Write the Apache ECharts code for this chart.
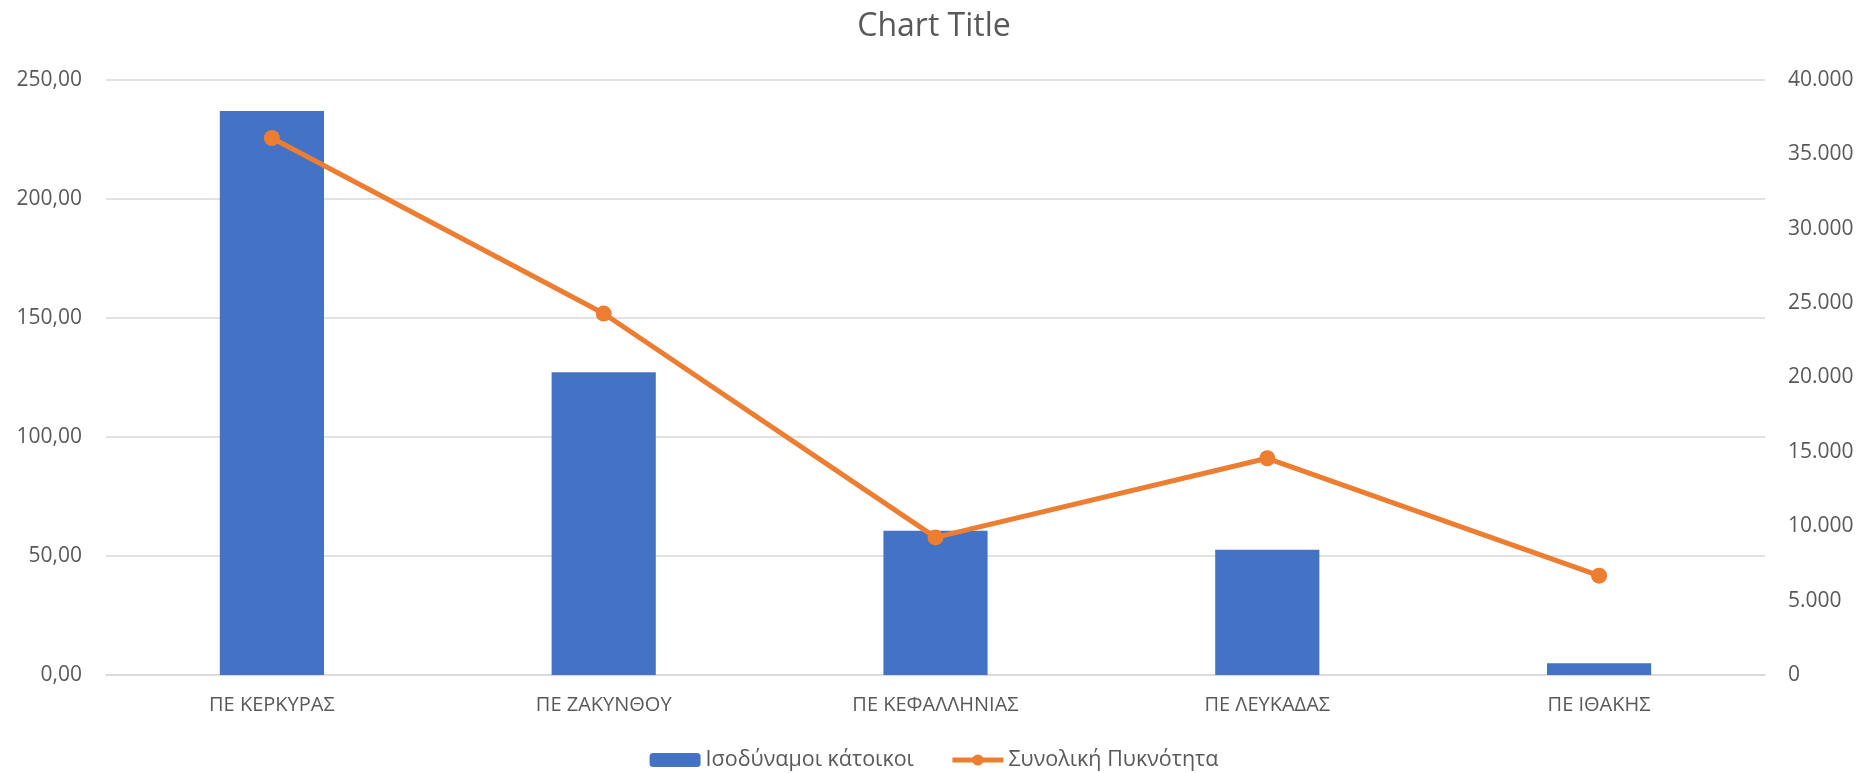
<!DOCTYPE html>
<html>
<head>
<meta charset="utf-8">
<script src="https://cdn.jsdelivr.net/npm/echarts@6/dist/echarts.min.js"></script>
<style>
  html, body { margin: 0; padding: 0; background: #fff; }
  #chart { width: 1868px; height: 773px; }
</style>
</head>
<body>
<div id="chart"></div>
<script>
// categories and values
var categories = ["ΠΕ ΚΕΡΚΥΡΑΣ", "ΠΕ ΖΑΚΥΝΘΟΥ", "ΠΕ ΚΕΦΑΛΛΗΝΙΑΣ", "ΠΕ ΛΕΥΚΑΔΑΣ", "ΠΕ ΙΘΑΚΗΣ"];
var residents = [237.0, 127.2, 60.6, 52.6, 4.9];
var density = [36100, 24300, 9250, 14570, 6680];

var font = "'Open Sans', 'Noto Sans', sans-serif";
var textColor = "#595959";

var chart = echarts.init(document.getElementById("chart"));

var option = {
  animation: false,
  title: {
    text: "Chart Title",
    left: "center",
    top: 6,
    textStyle: { color: textColor, fontSize: 32, fontWeight: "normal", fontFamily: font }
  },
  legend: {
    top: 744,
    left: "center",
    itemWidth: 51,
    itemHeight: 14,
    itemGap: 36,
    lineStyle: { width: 5 },
    textStyle: { color: textColor, fontSize: 21.5, fontFamily: font }
  },
  grid: { left: 106, right: 103, top: 80, bottom: 98 },
  xAxis: {
    type: "category",
    data: categories,
    axisTick: { show: false },
    axisLine: { show: true, lineStyle: { color: "#d9d9d9", width: 1.5 } },
    axisLabel: { color: textColor, fontSize: 20, fontFamily: font, margin: 20 }
  },
  yAxis: [
    {
      type: "value",
      min: 0,
      max: 250,
      interval: 50,
      axisLine: { show: false },
      axisTick: { show: false },
      splitLine: { lineStyle: { color: "#d9d9d9", width: 1.5 } },
      axisLabel: {
        color: textColor, fontSize: 21, fontFamily: font, margin: 24,
        formatter: function (v) { return v.toFixed(2).replace(".", ","); }
      }
    },
    {
      type: "value",
      min: 0,
      max: 40000,
      interval: 5000,
      axisLine: { show: false },
      axisTick: { show: false },
      splitLine: { show: false },
      axisLabel: {
        color: textColor, fontSize: 21, fontFamily: font, margin: 23,
        formatter: function (v) { return String(v).replace(/\B(?=(\d{3})+(?!\d))/g, "."); }
      }
    }
  ],
  series: [
    {
      name: "Ισοδύναμοι κάτοικοι",
      type: "bar",
      data: residents,
      barWidth: "31.4%",
      itemStyle: { color: "#4472C4" }
    },
    {
      name: "Συνολική Πυκνότητα",
      type: "line",
      yAxisIndex: 1,
      data: density,
      symbol: "circle",
      symbolSize: 16,
      lineStyle: { color: "#ED7D31", width: 5 },
      itemStyle: { color: "#ED7D31" }
    }
  ]
};

chart.setOption(option);
</script>
</body>
</html>
